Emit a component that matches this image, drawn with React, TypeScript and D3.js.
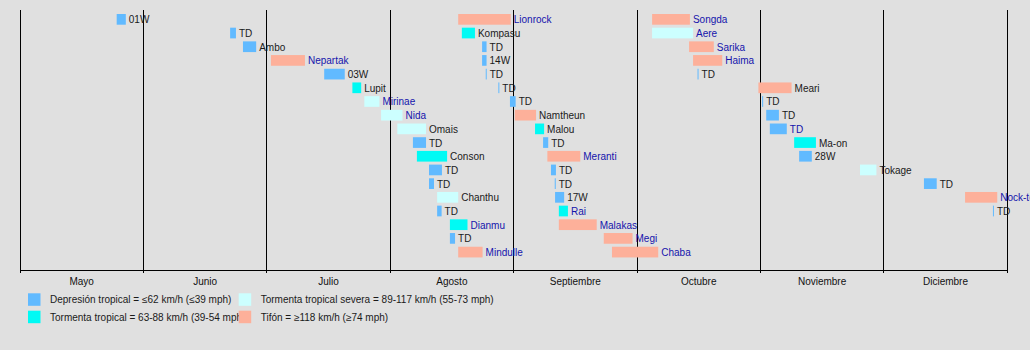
import React from "react";
import * as d3 from "d3";

// ---- data ----
const monthLabels = ["Mayo", "Junio", "Julio", "Agosto", "Septiembre", "Octubre", "Noviembre", "Diciembre"];
const monthStarts = ["2016-05-01", "2016-06-01", "2016-07-01", "2016-08-01", "2016-09-01", "2016-10-01", "2016-11-01", "2016-12-01", "2017-01-01"];

const stormNames = [
  "01W", "TD", "Ambo", "Nepartak", "03W", "Lupit", "Mirinae", "Nida", "Omais", "TD", "Conson", "TD", "TD", "Chanthu", "TD", "Dianmu", "TD", "Mindulle",
  "Lionrock", "Kompasu", "TD", "14W", "TD", "TD", "TD", "Namtheun", "Malou", "TD", "Meranti", "TD", "TD", "17W", "Rai", "Malakas", "Megi", "Chaba",
  "Songda", "Aere", "Sarika", "Haima", "TD", "Meari", "TD", "TD", "TD", "Ma-on", "28W", "Tokage", "TD", "Nock-ten", "TD",
];
const stormStart = [
  "05-25 07", "06-22 02", "06-25 05", "07-02 01", "07-15 10", "07-22 12", "07-25 12", "07-29 17", "08-02 19", "08-06 17", "08-07 17", "08-10 18", "08-10 18", "08-12 19", "08-12 19", "08-16 00", "08-16 00", "08-18 02",
  "08-18 02", "08-19 00", "08-24 02", "08-24 02", "08-25 00", "08-28 04", "08-31 02", "09-01 07", "09-06 05", "09-08 04", "09-09 05", "09-10 02", "09-11 00", "09-11 02", "09-12 00", "09-12 00", "09-22 22", "09-24 22",
  "10-04 19", "10-04 19", "10-14 02", "10-15 02", "10-16 05", "10-31 12", "11-01 10", "11-02 10", "11-03 07", "11-09 05", "11-10 10", "11-25 05", "12-11 02", "12-21 10", "12-28 10",
];
const stormEnd = [
  "05-27 14", "06-23 12", "06-28 10", "07-10 14", "07-20 14", "07-24 17", "07-29 07", "08-04 02", "08-10 00", "08-10 00", "08-15 07", "08-14 00", "08-12 00", "08-18 02", "08-13 22", "08-20 10", "08-17 07", "08-24 05",
  "08-31 07", "08-22 07", "08-25 05", "08-25 05", "08-25 06", "08-28 10", "09-01 12", "09-06 11", "09-08 10", "09-09 10", "09-17 05", "09-11 07", "09-11 06", "09-13 07", "09-14 05", "09-21 05", "09-29 22", "10-06 08",
  "10-14 07", "10-15 02", "10-20 07", "10-22 10", "10-16 11", "11-08 14", "11-01 16", "11-05 12", "11-07 10", "11-14 12", "11-13 12", "11-29 05", "12-14 07", "12-29 12", "12-28 16",
];
const stormCat = [
  "TD", "TD", "TD", "TY", "TD", "TS", "STS", "STS", "STS", "TD", "TS", "TD", "TD", "STS", "TD", "TS", "TD", "TY",
  "TY", "TS", "TD", "TD", "TD", "TD", "TD", "TY", "TS", "TD", "TY", "TD", "TD", "TD", "TS", "TY", "TY", "TY",
  "TY", "STS", "TY", "TY", "TD", "TY", "TD", "TD", "TD", "TS", "TD", "STS", "TD", "TY", "TD",
];
const stormLinked = [
  false, false, false, true, false, false, true, true, false, false, false, false, false, false, false, true, false, true,
  true, false, false, false, false, false, false, false, false, false, true, false, false, false, true, true, true, true,
  true, true, true, true, false, false, false, false, true, false, false, false, false, true, false,
];
const rowsPerColumn = 18;

const catKeys = ["TD", "TS", "STS", "TY"];
const catColors = ["#61baff", "#00faf4", "#ccffff", "#fdb09a"];
const legendLabels = [
  "Depresión tropical = ≤62 km/h (≤39 mph)",
  "Tormenta tropical = 63-88 km/h (39-54 mph)",
  "Tormenta tropical severa = 89-117 km/h (55-73 mph)",
  "Tifón = ≥118 km/h (≥74 mph)",
];

// ---- layout ----
const W = 1030;
const H = 350;
const FONT = "'Liberation Sans', Arial, Helvetica, sans-serif";
const plotLeft = 20;
const plotRight = 1007.2;
const plotTop = 10;
const axisY = 270;
const rowTop = 14;
const rowStep = 13.69;
const barH = 10.7;

const parseDay = d3.timeParse("%Y-%m-%d");
const parseHour = d3.timeParse("%Y-%m-%d %H");

export default function App() {
  const bounds = monthStarts.map((s) => parseDay(s) as Date);
  const x = d3
    .scaleTime()
    .domain(bounds)
    .range(bounds.map((_, i) => plotLeft + (i * (plotRight - plotLeft)) / (bounds.length - 1)));
  const y = (row: number) => rowTop + row * rowStep;
  const color = d3.scaleOrdinal<string, string>().domain(catKeys).range(catColors);

  const storms = stormNames.map((name, i) => {
    const s = parseHour("2016-" + stormStart[i]) as Date;
    const e = parseHour("2016-" + stormEnd[i]) as Date;
    return { name, s, e, cat: stormCat[i], link: stormLinked[i], row: i % rowsPerColumn };
  });

  const legendItems = catKeys.map((k, i) => ({
    key: k,
    label: legendLabels[i],
    col: Math.floor(i / 2),
    row: i % 2,
  }));
  const legX = [28, 238.7];
  const legY = [293.3, 310.7];

  return (
    <svg
      width={W}
      height={H}
      style={{ position: "absolute", left: 0, top: 0, display: "block" }}
      fontFamily={FONT}
    >
      <rect x={0} y={0} width={W} height={H} fill="#e0e0e0" />
      {/* grid lines */}
      {bounds.map((b, i) => (
        <line key={"g" + i} x1={x(b)} x2={x(b)} y1={plotTop} y2={axisY} stroke="#000" strokeWidth={1} shapeRendering="crispEdges" />
      ))}
      {/* axis */}
      <line x1={plotLeft} x2={plotRight} y1={axisY} y2={axisY} stroke="#000" strokeWidth={1} shapeRendering="crispEdges" />
      {bounds.map((b, i) => (
        <line key={"t" + i} x1={x(b)} x2={x(b)} y1={axisY - 2} y2={axisY + 3} stroke="#000" strokeWidth={1} shapeRendering="crispEdges" />
      ))}
      {monthLabels.map((m, i) => (
        <text
          key={"m" + i}
          x={(x(bounds[i]) + x(bounds[i + 1])) / 2}
          y={285}
          textAnchor="middle"
          fontSize={10}
          fill="#111"
        >
          {m}
        </text>
      ))}
      {/* bars */}
      {storms.map((d, i) => {
        const x0 = x(d.s);
        const w = Math.max(1, x(d.e) - x0);
        return <rect key={"s" + i} x={x0} y={y(d.row)} width={w} height={barH} fill={color(d.cat)} />;
      })}
      {storms.map((d, i) => (
        <text
          key={"l" + i}
          x={x(d.e) + 3}
          y={y(d.row) + barH / 2 + 4}
          fontSize={10}
          fill={d.link ? "#1414ac" : "#1a1a1a"}
        >
          {d.name}
        </text>
      ))}
      {/* legend */}
      {legendItems.map((it) => (
        <g key={"lg" + it.key}>
          <rect x={legX[it.col]} y={legY[it.row]} width={12.5} height={12.5} fill={color(it.key)} />
          <text x={legX[it.col] + 22} y={legY[it.row] + 10} fontSize={10} fill="#1a1a1a">
            {it.label}
          </text>
        </g>
      ))}
    </svg>
  );
}
